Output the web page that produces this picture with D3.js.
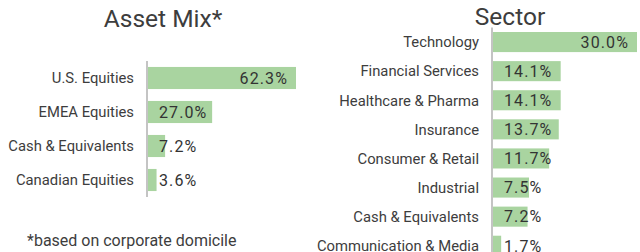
<!DOCTYPE html>
<html>
<meta charset="utf-8">
<style>
body { margin: 0; background: #fff; }
svg text { font-family: Roboto, sans-serif; fill: #3d3d3d; }
.cat { font-size: 14.8px; }
.val { font-size: 16px; letter-spacing: 1.1px; fill: #333; }
.title { font-size: 24.5px; }
.note { font-size: 16px; }
.bar { fill: #a9d4a0; }
.axisline { stroke: #c4c4c4; stroke-width: 2; }
</style>
<body>
<div id="chart"></div>
<script src="https://d3js.org/d3.v7.min.js"></script>
<script>

var assetCats = ["U.S. Equities", "EMEA Equities", "Cash & Equivalents", "Canadian Equities"];
var assetVals = [62.3, 27.0, 7.2, 3.6];

var sectorCats = ["Technology", "Financial Services", "Healthcare & Pharma", "Insurance",
    "Consumer & Retail", "Industrial", "Cash & Equivalents", "Communication & Media"];
var sectorVals = [30.0, 14.1, 14.1, 13.7, 11.7, 7.5, 7.2, 1.7];

var width = 640, height = 252;

var svg = d3.select("#chart").append("svg")
    .attr("width", width)
    .attr("height", height);

function barChart(cats, vals, opt) {
  var data = cats.map(function(c, i) { return {cat: c, val: vals[i]}; });

  var x = d3.scaleLinear()
      .domain([0, d3.max(vals)])
      .range([opt.x0, opt.x1]);

  var y = d3.scaleBand()
      .domain(cats)
      .range([opt.y0, opt.y1])
      .paddingInner(opt.pad)
      .paddingOuter(opt.pad / 2);

  var g = svg.append("g");

  g.selectAll("rect")
      .data(data)
    .enter().append("rect")
      .attr("class", "bar")
      .attr("x", x(0))
      .attr("y", function(d) { return y(d.cat); })
      .attr("width", function(d) { return x(d.val) - x(0); })
      .attr("height", y.bandwidth());

  g.append("line")
      .attr("class", "axisline")
      .attr("x1", x(0) - 1).attr("x2", x(0) - 1)
      .attr("y1", opt.y0).attr("y2", opt.y1);

  g.selectAll("text.cat")
      .data(data)
    .enter().append("text")
      .attr("class", "cat")
      .attr("x", x(0) - opt.gap)
      .attr("y", function(d) { return y(d.cat) + y.bandwidth() / 2; })
      .attr("dy", "0.36em")
      .attr("text-anchor", "end")
      .text(function(d) { return d.cat; });

  var top = d3.max(vals);
  g.selectAll("text.val")
      .data(data)
    .enter().append("text")
      .attr("class", "val")
      .attr("x", function(d) { return d.val === top ? x(d.val) - 8 : x(0) + 11; })
      .attr("y", function(d) { return y(d.cat) + y.bandwidth() / 2; })
      .attr("dy", "0.36em")
      .attr("text-anchor", function(d) { return d.val === top ? "end" : "start"; })
      .text(function(d) { return d.val.toFixed(1) + "%"; });

  svg.append("text")
      .attr("class", "title")
      .attr("x", opt.tx)
      .attr("y", opt.ty)
      .attr("text-anchor", "middle")
      .text(opt.title);
}

barChart(assetCats, assetVals, {
  x0: 148, x1: 296, y0: 61, y1: 197, pad: 0.35, gap: 14,
  title: "Asset Mix*", tx: 163, ty: 27
});

barChart(sectorCats, sectorVals, {
  x0: 493, x1: 637, y0: 27.5, y1: 260.3, pad: 0.31, gap: 14,
  title: "Sector", tx: 510, ty: 25
});

svg.append("text")
    .attr("class", "note")
    .attr("x", 27)
    .attr("y", 246)
    .text("*based on corporate domicile");

</script>
</body>
</html>
